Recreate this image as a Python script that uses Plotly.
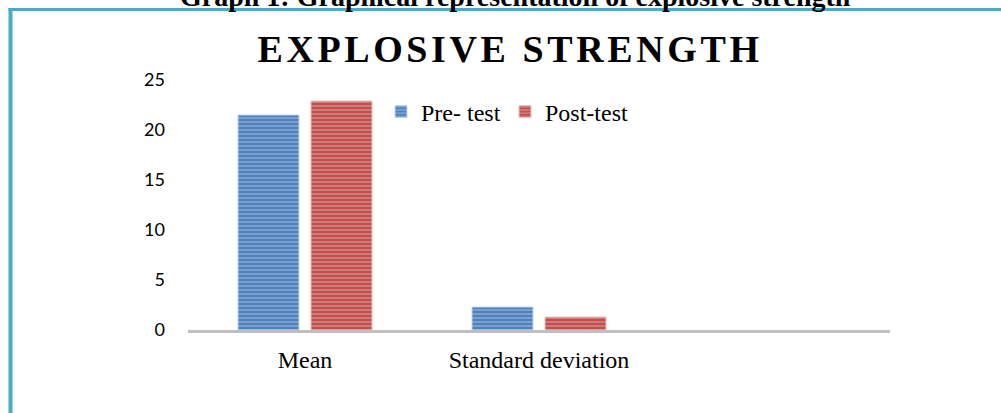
import plotly.graph_objects as go

categories = ["Mean", "Standard deviation"]
pre_test = [21.5, 2.3]
post_test = [22.9, 1.3]
y_ticks = [0, 5, 10, 15, 20, 25]
title_text = "EXPLOSIVE STRENGTH"
caption_text = "Graph 1: Graphical representation of explosive strength"

W, H = 1001, 413
L, R, T, B = 188, 111, 80, 83
PW, PH = W - L - R, H - T - B


def px_x(x):
    return (x - L) / PW


def px_y(y):
    return (H - B - y) / PH


fig = go.Figure()
fig.add_trace(go.Bar(
    x=categories, y=pre_test, name="Pre- test", legend="legend",
    marker=dict(color="#4F81BD", line=dict(color="#C6D6EC", width=1),
                pattern=dict(shape="-", size=4, solidity=0.35,
                             bgcolor="#4F81BD", fgcolor="#C9D9EE")),
))
fig.add_trace(go.Bar(
    x=categories, y=post_test, name="Post-test", legend="legend2",
    marker=dict(color="#C0504D", line=dict(color="#EBC6C5", width=1),
                pattern=dict(shape="-", size=4, solidity=0.35,
                             bgcolor="#C0504D", fgcolor="#F0C9C8")),
))

blue = "#4BACC6"
shapes = [
    dict(type="line", xref="paper", yref="paper", x0=px_x(10.5), x1=px_x(10.5),
         y0=px_y(8), y1=px_y(H + 2), line=dict(color=blue, width=4)),
    dict(type="line", xref="paper", yref="paper", x0=px_x(8.5), x1=px_x(W + 2),
         y0=px_y(9.5), y1=px_y(9.5), line=dict(color=blue, width=3)),
]

legend_font = dict(family="Liberation Serif", size=24, color="black")

fig.update_layout(
    width=W, height=H,
    margin=dict(l=L, r=R, t=T, b=B, pad=0),
    paper_bgcolor="white", plot_bgcolor="white",
    barmode="group", bargap=0.376, bargroupgap=0.164,
    showlegend=True,
    title=dict(text="<b>" + title_text + "</b>", x=px_x(510), xref="paper", xanchor="center",
               y=1 - 49 / H, yref="container", yanchor="middle",
               font=dict(family="Liberation Serif", size=38, color="black")),
    legend=dict(orientation="h", x=px_x(381), xanchor="left", y=px_y(112), yanchor="middle",
                font=legend_font, bgcolor="rgba(0,0,0,0)", itemwidth=30),
    legend2=dict(orientation="h", x=px_x(505), xanchor="left", y=px_y(112), yanchor="middle",
                 font=legend_font, bgcolor="rgba(0,0,0,0)", itemwidth=30),
    shapes=shapes,
    annotations=[dict(text="<b>" + caption_text + "</b>", xref="paper", yref="paper",
                      x=px_x(515), y=px_y(14), xanchor="center", yanchor="bottom",
                      showarrow=False,
                      font=dict(family="Liberation Serif", size=28, color="black"))],
    xaxis=dict(type="category", range=[-0.5, 2.5], showline=True, linecolor="#BFBFBF",
               linewidth=3, showgrid=False, zeroline=False, ticks="",
               tickfont=dict(family="Liberation Serif", size=24, color="black"),
               ticklabelstandoff=6),
    yaxis=dict(range=[0, 25], tickvals=y_ticks, showgrid=False, zeroline=False,
               showline=False, ticks="",
               tickfont=dict(family="Lato", size=18, color="black"),
               ticklabelstandoff=22),
)

post_script = """
document.body.style.margin = '0';
document.documentElement.style.overflow = 'hidden';
var gd = document.getElementById('{plot_id}');
function sp(){ document.querySelectorAll('.gtitle').forEach(function(e){ e.style.letterSpacing='3.6px'; }); }
sp(); gd.on('plotly_afterplot', sp);
"""

fig.write_html("out.html", post_script=post_script, config={"displayModeBar": False})
